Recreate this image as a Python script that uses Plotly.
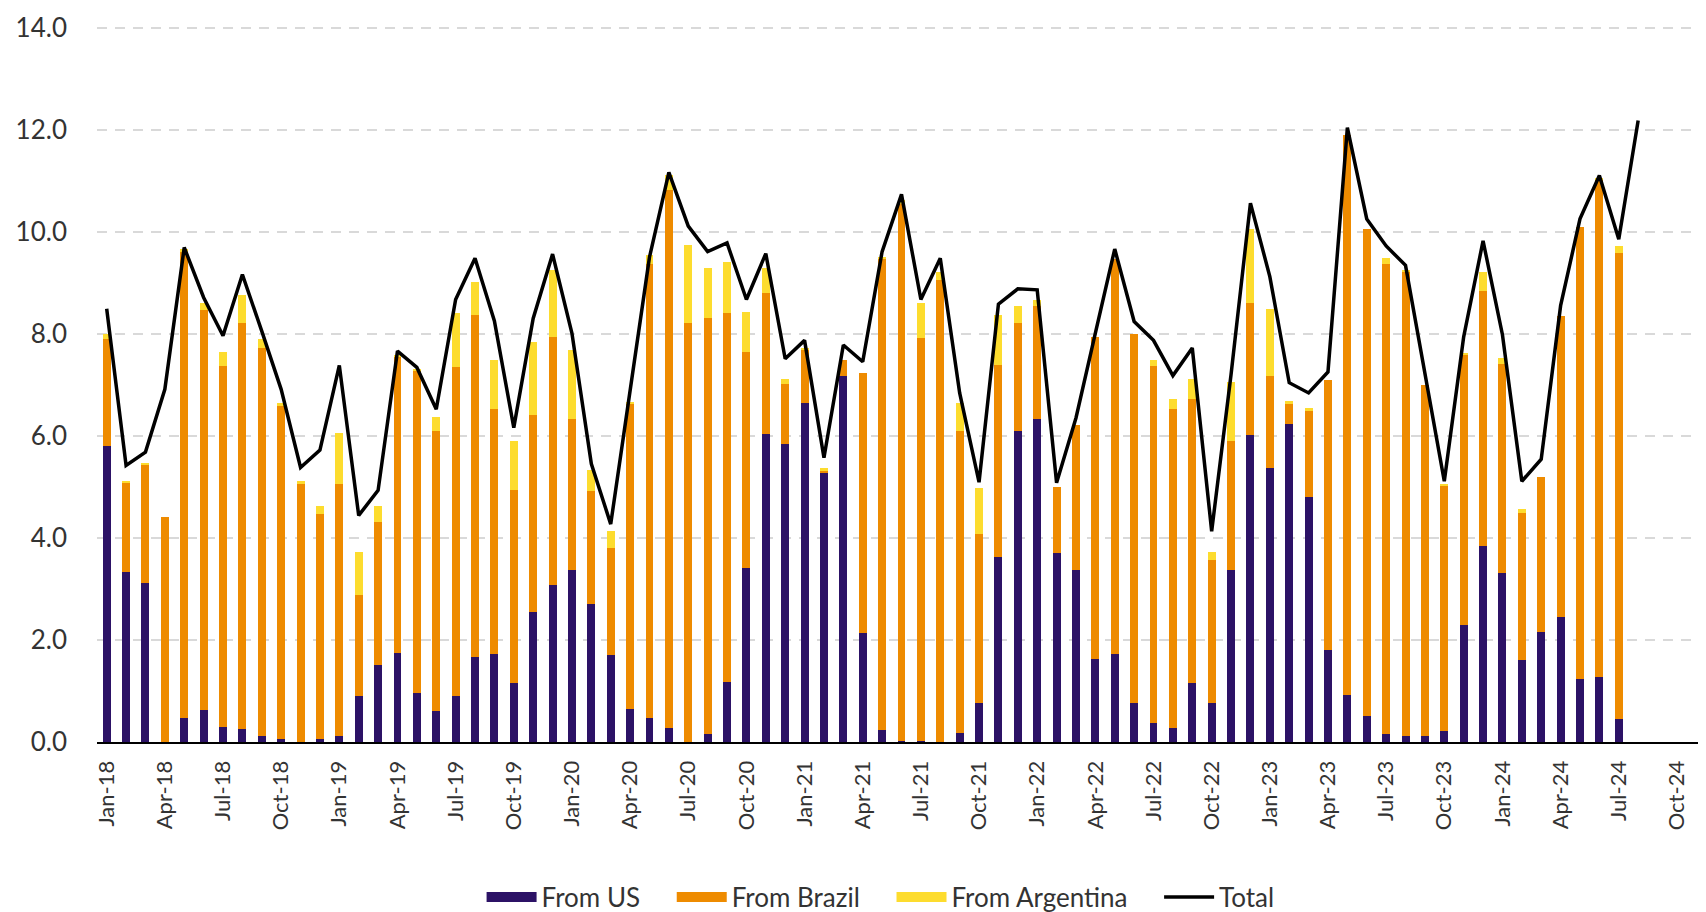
import plotly.graph_objects as go

# Month labels (Jan-18 .. Nov-24); axis spans all of them
months_abbr = ["Jan", "Feb", "Mar", "Apr", "May", "Jun", "Jul", "Aug", "Sep", "Oct", "Nov", "Dec"]
categories = [f"{m}-{y}" for y in range(18, 25) for m in months_abbr][:83]

# Stacked bar series (Jan-18 .. Jul-24)
from_us = [5.81, 3.33, 3.11, 0.00, 0.47, 0.62, 0.30, 0.25, 0.12, 0.06, 0.00, 0.06,
           0.12, 0.90, 1.50, 1.75, 0.97, 0.60, 0.90, 1.67, 1.72, 1.15, 2.55, 3.08,
           3.38, 2.70, 1.71, 0.64, 0.47, 0.27, 0.00, 0.15, 1.18, 3.41, 6.04, 5.84,
           6.65, 5.28, 7.18, 2.14, 0.24, 0.02, 0.02, 0.00, 0.17, 0.77, 3.63, 6.09,
           6.33, 3.71, 3.38, 1.62, 1.72, 0.77, 0.37, 0.27, 1.15, 0.77, 3.38, 6.01,
           5.36, 6.23, 4.81, 1.81, 0.93, 0.51, 0.15, 0.12, 0.12, 0.21, 2.30, 3.84,
           3.31, 1.61, 2.16, 2.44, 1.23, 1.28, 0.45]
from_brazil = [2.08, 1.75, 2.32, 4.40, 9.14, 7.84, 7.06, 7.96, 7.60, 6.53, 5.06, 4.40,
               4.94, 1.98, 2.81, 5.80, 6.30, 5.50, 6.44, 6.70, 4.80, 3.78, 3.85, 4.86,
               2.95, 2.21, 2.10, 6.00, 8.89, 10.54, 8.21, 8.16, 7.23, 4.23, 2.75, 1.17,
               1.05, 0.04, 0.30, 5.10, 9.24, 10.53, 7.89, 9.06, 5.93, 3.30, 3.76, 2.12,
               2.21, 1.29, 2.84, 6.31, 7.74, 7.23, 6.99, 6.26, 5.58, 2.79, 2.52, 2.59,
               1.82, 0.40, 1.68, 5.29, 10.97, 9.54, 9.21, 9.10, 6.88, 4.81, 5.30, 4.99,
               4.09, 2.88, 3.03, 5.90, 8.86, 9.74, 9.13]
from_argentina = [0.10, 0.02, 0.02, 0.00, 0.05, 0.14, 0.28, 0.55, 0.17, 0.05, 0.05, 0.17,
                  0.99, 0.84, 0.32, 0.04, 0.02, 0.27, 1.07, 0.64, 0.97, 0.97, 1.44, 1.31,
                  1.36, 0.42, 0.32, 0.01, 0.19, 0.30, 1.53, 0.98, 1.00, 0.79, 0.50, 0.11,
                  0.02, 0.04, 0.00, 0.00, 0.02, 0.07, 0.69, 0.14, 0.54, 0.91, 0.97, 0.33,
                  0.12, 0.00, 0.00, 0.00, 0.00, 0.00, 0.12, 0.20, 0.39, 0.16, 1.16, 1.46,
                  1.31, 0.05, 0.05, 0.00, 0.00, 0.00, 0.12, 0.03, 0.00, 0.03, 0.03, 0.37,
                  0.13, 0.07, 0.00, 0.00, 0.00, 0.04, 0.13]
# Total line (Jan-18 .. Aug-24)
total = [8.49, 5.42, 5.68, 6.91, 9.69, 8.71, 7.96, 9.16, 8.05, 6.91, 5.38, 5.72,
         7.38, 4.44, 4.93, 7.66, 7.34, 6.52, 8.67, 9.48, 8.25, 6.16, 8.30, 9.56,
         8.01, 5.45, 4.27, 6.85, 9.50, 11.16, 10.11, 9.61, 9.78, 8.67, 9.57, 7.51,
         7.87, 5.57, 7.78, 7.45, 9.61, 10.73, 8.67, 9.48, 6.84, 5.09, 8.58, 8.88,
         8.86, 5.08, 6.35, 8.01, 9.66, 8.24, 7.87, 7.18, 7.72, 4.13, 7.20, 10.56,
         9.12, 7.04, 6.84, 7.25, 12.04, 10.25, 9.72, 9.34, 7.20, 5.11, 7.94, 9.82,
         7.98, 5.11, 5.54, 8.55, 10.25, 11.10, 9.85, 12.18]

series_names = ["From US", "From Brazil", "From Argentina"]
series_colors = ["#2C1266", "#EE8B00", "#FDDC2E"]
tick_labels = [c for c in categories if c.split("-")[0] in ("Jan", "Apr", "Jul", "Oct")]
y_ticks = [0, 2, 4, 6, 8, 10, 12, 14]

FONT = "Lato"
TXT = "#333333"
PAD = "\u00a0" * 4

fig = go.Figure()
for vals, name, col in zip([from_us, from_brazil, from_argentina], series_names, series_colors):
    fig.add_trace(go.Bar(x=categories[:len(vals)], y=vals, name=name, showlegend=False,
                         legendgroup=name, marker=dict(color=col, line=dict(width=0))))
fig.add_trace(go.Scatter(x=categories[:len(total)], y=total, name="Total", mode="lines",
                         showlegend=False, legendgroup="Total",
                         line=dict(color="#000000", width=3.5)))

# Legend-only entries (wide swatches like the original)
for name, col in zip(series_names, series_colors):
    fig.add_trace(go.Scatter(x=[None], y=[None], name=name + PAD, mode="lines", legendgroup=name,
                             line=dict(color=col, width=16)))
fig.add_trace(go.Scatter(x=[None], y=[None], name="Total", mode="lines", legendgroup="Total",
                         line=dict(color="#000000", width=3.5)))

fig.update_layout(
    width=1698, height=904,
    barmode="stack", bargap=0.59,
    plot_bgcolor="white", paper_bgcolor="white",
    margin=dict(l=89, r=0, t=18, b=170, autoexpand=False),
    font=dict(family=FONT, color=TXT),
    showlegend=True,
    legend=dict(orientation="h", x=0.487, xanchor="center", y=-0.2165, yanchor="middle",
                font=dict(size=26, family=FONT, color=TXT), itemwidth=50,
                traceorder="normal", bgcolor="rgba(0,0,0,0)", tracegroupgap=0),
    xaxis=dict(type="category", categoryorder="array", categoryarray=categories,
               range=[-0.5, len(categories) - 0.5],
               tickmode="array", tickvals=tick_labels, ticktext=tick_labels,
               tickangle=-90, tickfont=dict(size=22, family=FONT, color=TXT),
               showgrid=False, showline=True, linecolor="#000000", linewidth=2,
               ticks="", ticklabelstandoff=8),
    yaxis=dict(range=[0, 14.03], tickmode="array", tickvals=y_ticks,
               tickformat=".1f", tickfont=dict(size=26, family=FONT, color=TXT),
               showgrid=True, gridcolor="#D9D9D9", gridwidth=2, griddash="10px,8px",
               zeroline=False, showline=False, ticks="", ticklabelstandoff=29),
)

fig.write_html("out.html")
